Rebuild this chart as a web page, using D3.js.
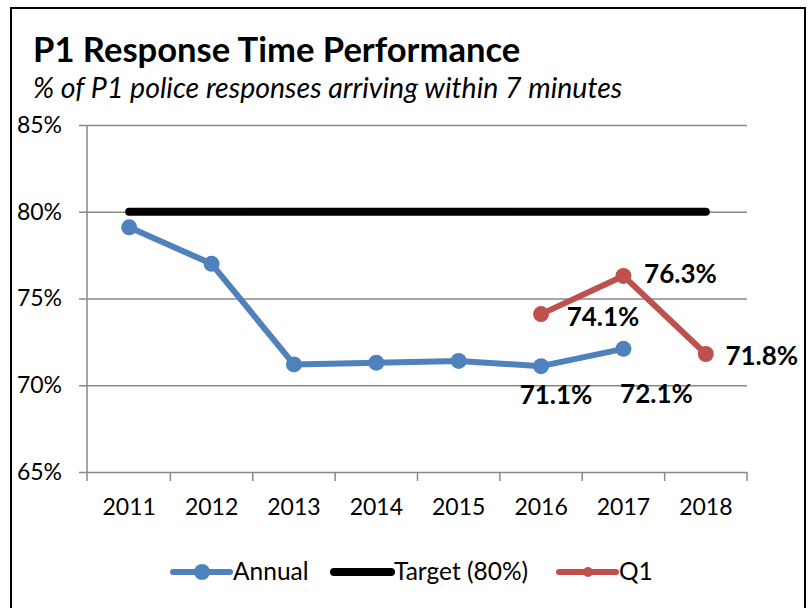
<!DOCTYPE html>
<html>
<head>
<meta charset="utf-8">
<script src="https://cdn.jsdelivr.net/npm/d3@7"></script>
<style>
  body { margin: 0; background: #fff; }
  svg { font-family: Lato, "Open Sans", sans-serif; }
</style>
</head>
<body>
<div id="chart"></div>
<script>
//chart values
var years = ["2011", "2012", "2013", "2014", "2015", "2016", "2017", "2018"];
var annual = [79.1, 77.0, 71.2, 71.3, 71.4, 71.1, 72.1, null];
var target = [80, 80, 80, 80, 80, 80, 80, 80];
var q1 = [null, null, null, null, null, 74.1, 76.3, 71.8];
var yTicks = [65, 70, 75, 80, 85];

var blue = "#4f81bd", red = "#c0504d";

const width = 810, height = 608;

const svg = d3.select("#chart").append("svg")
    .attr("width", width)
    .attr("height", height);

//outer frame
svg.append("rect")
    .attr("x", 11).attr("y", 8)
    .attr("width", 794).attr("height", 620)
    .attr("fill", "none")
    .attr("stroke", "#000")
    .attr("stroke-width", 2);

//titles
svg.append("text")
    .attr("x", 33).attr("y", 62)
    .attr("font-size", 34.6)
    .attr("font-weight", "bold")
    .text("P1 Response Time Performance");

svg.append("text")
    .attr("x", 33).attr("y", 98)
    .attr("font-size", 28.5)
    .attr("font-style", "italic")
    .text("% of P1 police responses arriving within 7 minutes");

//scales
const x = d3.scaleBand().domain(years).range([88, 747]);
const y = d3.scaleLinear().domain([65, 85]).range([472, 125]);
const cx = function(d) { return x(d) + x.bandwidth() / 2; };

//y axis with gridlines
const yAxis = svg.append("g")
    .attr("transform", "translate(87,0)")
    .call(d3.axisLeft(y).tickValues(yTicks).tickSize(8)
        .tickFormat(function(d) { return d + "%"; }));
yAxis.select(".domain").remove();
yAxis.selectAll(".tick line")
    .attr("x2", 747 - 87)
    .attr("x1", -8)
    .attr("stroke", "#888")
    .attr("stroke-width", 1.5);
yAxis.selectAll(".tick text")
    .attr("x", -25)
    .attr("font-size", 23)
    .attr("font-family", "Lato, sans-serif")
    .attr("fill", "#000");

//vertical axis line
svg.append("line")
    .attr("x1", 87).attr("x2", 87)
    .attr("y1", 125).attr("y2", 481)
    .attr("stroke", "#888").attr("stroke-width", 1.5);

//x axis ticks on band edges
const edges = years.map(function(d) { return x(d); }).concat([x.range()[1]]);
svg.append("g").selectAll("line")
    .data(edges.slice(1))
    .enter().append("line")
    .attr("x1", function(d) { return d; })
    .attr("x2", function(d) { return d; })
    .attr("y1", 472).attr("y2", 481)
    .attr("stroke", "#888").attr("stroke-width", 1.5);

svg.append("g").selectAll("text")
    .data(years)
    .enter().append("text")
    .attr("x", cx)
    .attr("y", 515)
    .attr("text-anchor", "middle")
    .attr("font-size", 23)
    .text(function(d) { return d; });

//series
function pts(vals) {
    return years.map(function(d, i) { return { year: d, v: vals[i] }; })
        .filter(function(p) { return p.v != null; });
}

const line = d3.line()
    .x(function(p) { return cx(p.year); })
    .y(function(p) { return y(p.v); });

//target line
svg.append("path")
    .attr("d", line(pts(target)))
    .attr("fill", "none")
    .attr("stroke", "#000")
    .attr("stroke-width", 8)
    .attr("stroke-linecap", "round");

function drawSeries(vals, color) {
    const data = pts(vals);
    svg.append("path")
        .attr("d", line(data))
        .attr("fill", "none")
        .attr("stroke", color)
        .attr("stroke-width", 6)
        .attr("stroke-linejoin", "round");
    svg.append("g").selectAll("circle")
        .data(data)
        .enter().append("circle")
        .attr("cx", function(p) { return cx(p.year); })
        .attr("cy", function(p) { return y(p.v); })
        .attr("r", 8)
        .attr("fill", color);
}

drawSeries(annual, blue);
drawSeries(q1, red);

//data labels (offsets from the point, moved by hand like the original)
var labelSpots = [
    { vals: annual, i: 5, dx: 15, dy: 38 },
    { vals: annual, i: 6, dx: 33, dy: 54 },
    { vals: q1, i: 5, dx: 62, dy: 12 },
    { vals: q1, i: 6, dx: 57, dy: 7 },
    { vals: q1, i: 7, dx: 56, dy: 11 }
];

svg.append("g").selectAll("text")
    .data(labelSpots)
    .enter().append("text")
    .attr("x", function(l) { return cx(years[l.i]) + l.dx; })
    .attr("y", function(l) { return y(l.vals[l.i]) + l.dy; })
    .attr("text-anchor", "middle")
    .attr("font-size", 26)
    .attr("font-weight", "bold")
    .text(function(l) { return l.vals[l.i].toFixed(1) + "%"; });

//legend
var legendItems = [
    { name: "Annual", color: blue, x: 173, marker: 8 },
    { name: "Target (80%)", color: "#000", x: 334, marker: 0 },
    { name: "Q1", color: red, x: 559, marker: 5 }
];

const legend = svg.append("g").selectAll("g")
    .data(legendItems)
    .enter().append("g")
    .attr("transform", function(d) { return "translate(" + d.x + ",572)"; });

legend.append("line")
    .attr("x1", 0).attr("x2", 57)
    .attr("stroke", function(d) { return d.color; })
    .attr("stroke-width", function(d) { return d.marker ? 6 : 8; })
    .attr("stroke-linecap", "round");

legend.filter(function(d) { return d.marker > 0; })
    .append("circle")
    .attr("cx", 29)
    .attr("r", function(d) { return d.marker; })
    .attr("fill", function(d) { return d.color; });

legend.append("text")
    .attr("x", 60)
    .attr("y", 8)
    .attr("font-size", 24.5)
    .text(function(d) { return d.name; });
</script>
</body>
</html>
